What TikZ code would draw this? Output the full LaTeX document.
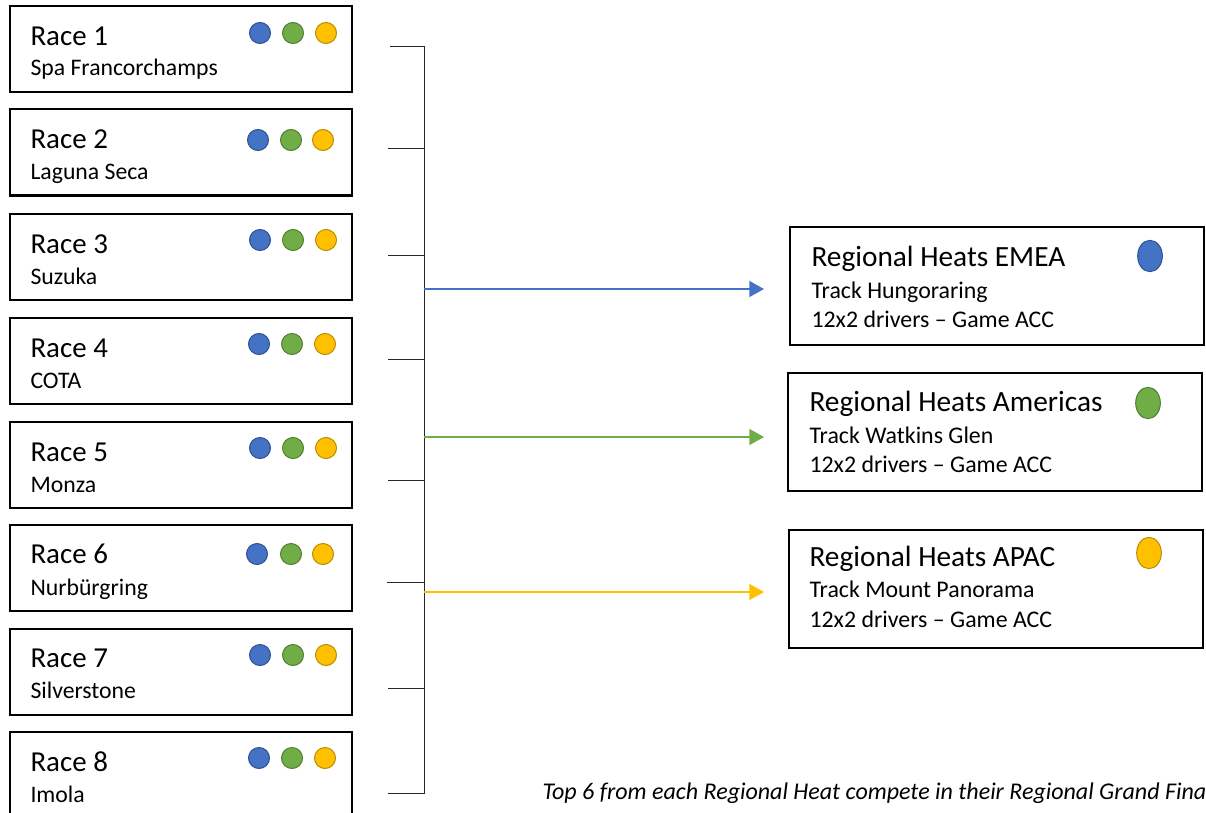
\documentclass[tikz,border=0pt]{standalone}
\usepackage{fontspec}
\setmainfont{Carlito}
\usetikzlibrary{arrows.meta,shapes.geometric}
\definecolor{emea}{HTML}{4472C4}
\definecolor{emeadark}{HTML}{2F528F}
\definecolor{amer}{HTML}{70AD47}
\definecolor{amerdark}{HTML}{507E32}
\definecolor{apac}{HTML}{FFC000}
\definecolor{apacdark}{HTML}{BC8C00}
\tikzstyle{rb}=[shape=rectangle,
                draw=black,
                line width=1.5pt,
                minimum width=256.5pt,
                minimum height=64.5pt]
\tikzstyle{hb}=[shape=rectangle,
                draw=black,
                line width=1.5pt,
                minimum width=310pt,
                minimum height=88.5pt]
\tikzstyle{rt}=[anchor=base west,inner sep=0pt,
                font=\fontsize{21.7}{26}\selectfont]
\tikzstyle{rs}=[anchor=base west,inner sep=0pt,
                font=\fontsize{17.8}{21}\selectfont]
\tikzstyle{ht}=[anchor=base west,inner sep=0pt,
                font=\fontsize{22}{26}\selectfont]
\tikzstyle{hs}=[anchor=base west,inner sep=0pt,
                font=\fontsize{17.9}{21}\selectfont]
\tikzstyle{dot}=[shape=circle,
                 line width=0.75pt,
                 minimum size=15.75pt,
                 inner sep=0pt]
\tikzstyle{oval}=[shape=ellipse,
                  line width=0.75pt,
                  minimum width=18.5pt,
                  minimum height=23.5pt,
                  inner sep=0pt]
\tikzstyle{bl}=[draw=emeadark,fill=emea]
\tikzstyle{gr}=[draw=amerdark,fill=amer]
\tikzstyle{ye}=[draw=apacdark,fill=apac]

\begin{document}
\begin{tikzpicture}[x=0.75pt,y=-0.75pt,line width=0.75pt,
                    >={Triangle[length=11pt,width=12pt]}]

\clip (0,0) rectangle (1206,813);

% race boxes
\node[rb] (r1) at (181,49.5)  {};
\node[rb] (r2) at (181,152.5) {};
\node[rb] (r3) at (181,256.5) {};
\node[rb] (r4) at (181,360.5) {};
\node[rb] (r5) at (181,464.5) {};
\node[rb] (r6) at (181,567.5) {};
\node[rb] (r7) at (181,671.5) {};
\node[rb] (r8) at (181,774.5) {};

% race names
\node[rt] (n1) at (30,46)  {Race 1};
\node[rs] (s1) at (30,76)  {Spa Francorchamps};
\node[rt] (n2) at (30,149) {Race 2};
\node[rs] (s2) at (30,180) {Laguna Seca};
\node[rt] (n3) at (30,253) {Race 3};
\node[rs] (s3) at (30,284) {Suzuka};
\node[rt] (n4) at (30,357) {Race 4};
\node[rs] (s4) at (30,388) {COTA};
\node[rt] (n5) at (30,461) {Race 5};
\node[rs] (s5) at (30,492) {Monza};
\node[rt] (n6) at (30,563) {Race 6};
\node[rs] (s6) at (30,595) {Nurbürgring};
\node[rt] (n7) at (30,667) {Race 7};
\node[rs] (s7) at (30,698) {Silverstone};
\node[rt] (n8) at (30,771) {Race 8};
\node[rs] (s8) at (30,802) {Imola};

% region dots
\node[dot,bl] (d1b) at (260,33)  {};
\node[dot,gr] (d1g) at (293,33)  {};
\node[dot,ye] (d1y) at (326,33)  {};
\node[dot,bl] (d2b) at (258,140) {};
\node[dot,gr] (d2g) at (291,140) {};
\node[dot,ye] (d2y) at (323,140) {};
\node[dot,bl] (d3b) at (260,240) {};
\node[dot,gr] (d3g) at (293,240) {};
\node[dot,ye] (d3y) at (326,240) {};
\node[dot,bl] (d4b) at (259,344) {};
\node[dot,gr] (d4g) at (292,344) {};
\node[dot,ye] (d4y) at (325,344) {};
\node[dot,bl] (d5b) at (260,448) {};
\node[dot,gr] (d5g) at (293,448) {};
\node[dot,ye] (d5y) at (326,448) {};
\node[dot,bl] (d6b) at (257,554) {};
\node[dot,gr] (d6g) at (291,554) {};
\node[dot,ye] (d6y) at (323,554) {};
\node[dot,bl] (d7b) at (260,655) {};
\node[dot,gr] (d7g) at (293,655) {};
\node[dot,ye] (d7y) at (326,655) {};
\node[dot,bl] (d8b) at (259,758) {};
\node[dot,gr] (d8g) at (292,758) {};
\node[dot,ye] (d8y) at (325,758) {};

% bracket
\coordinate (k1) at (390,47);
\coordinate (k2) at (388,149);
\coordinate (k3) at (388,255);
\coordinate (k4) at (388,359);
\coordinate (k5) at (388,480);
\coordinate (k6) at (387,582);
\coordinate (k7) at (388,688);
\coordinate (k8) at (388,793);
\coordinate (b1) at (424,47);
\coordinate (b2) at (424,149);
\coordinate (b3) at (424,255);
\coordinate (b4) at (424,359);
\coordinate (b5) at (424,480);
\coordinate (b6) at (424,582);
\coordinate (b7) at (424,688);
\coordinate (b8) at (424,793);
\draw[black!85] (k1) -- (b1) -- (b8) -- (k8);
\draw[black!85] (k2) -- (b2);
\draw[black!85] (k3) -- (b3);
\draw[black!85] (k4) -- (b4);
\draw[black!85] (k5) -- (b5);
\draw[black!85] (k6) -- (b6);
\draw[black!85] (k7) -- (b7);

% regional heats
\node[hb] (h1) at (997,286)   {};
\node[hb] (h2) at (995,432)   {};
\node[hb] (h3) at (996,588.5) {};
\node[ht] (m1) at (811,266) {Regional Heats EMEA};
\node[hs] (t1) at (811,298) {Track Hungoraring};
\node[hs] (g1) at (811,327) {12x2 drivers -- Game ACC};
\node[ht] (m2) at (809,411) {Regional Heats Americas};
\node[hs] (t2) at (809,443) {Track Watkins Glen};
\node[hs] (g2) at (809,472) {12x2 drivers -- Game ACC};
\node[ht] (m3) at (809,566) {Regional Heats APAC};
\node[hs] (t3) at (809,597) {Track Mount Panorama};
\node[hs] (g3) at (809,627) {12x2 drivers -- Game ACC};
\node[oval,bl] (o1) at (1150,256) {};
\node[oval,gr] (o2) at (1148,403) {};
\node[oval,ye] (o3) at (1149,553) {};

% paths
\coordinate (a1) at (424,289);
\coordinate (a2) at (424,437);
\coordinate (a3) at (424,592);
\coordinate (e1) at (764,289);
\coordinate (e2) at (764,437);
\coordinate (e3) at (764,592);
\draw[->,emea,line width=1pt] (a1) -- (e1);
\draw[->,amer,line width=1pt] (a2) -- (e2);
\draw[->,apac,line width=1pt] (a3) -- (e3);

% note
\node[anchor=base west,inner sep=0pt,font=\fontsize{18}{21}\selectfont\itshape]
  (note) at (542,799) {Top 6 from each Regional Heat compete in their Regional Grand Fina};

\end{tikzpicture}
\end{document}
